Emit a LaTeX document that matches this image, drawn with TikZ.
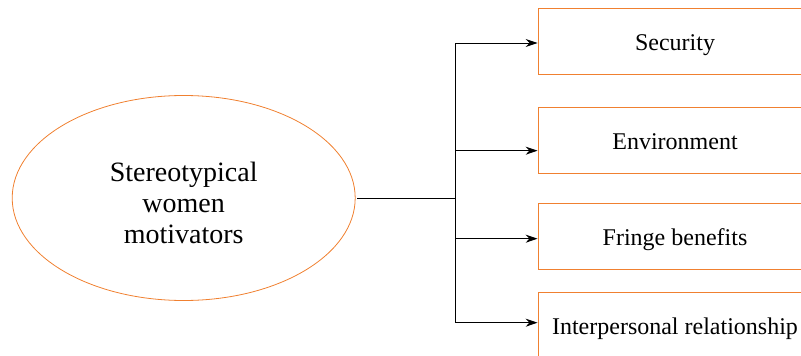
\documentclass[tikz,border=0pt]{standalone}
\usepackage{fontspec}
\setmainfont{Liberation Serif}
\usetikzlibrary{arrows.meta, positioning, shapes.geometric}
\definecolor{lineorange}{RGB}{240,128,48}

\begin{document}
\begin{tikzpicture}[
  x=1pt, y=-1pt,
  motive/.style={draw=lineorange, line width=0.8pt, ellipse, minimum width=343pt, minimum height=205pt, inner sep=0pt, align=center, text height=91pt, text depth=0pt, font=\fontsize{28}{31}\selectfont},
  factor/.style={draw=lineorange, line width=0.8pt, minimum width=274pt, minimum height=66pt, inner sep=0pt, align=center, text height=19pt, text depth=0pt, font=\fontsize{24}{28}\selectfont},
  trunk/.style={line width=1pt, black},
  branch/.style={-{Stealth[length=12pt, width=8pt]}, line width=1pt, black}
]
\clip (0,0) rectangle (801,356);
\node[motive] (motiv) at (183.7,198) {Stereotypical\\women\\motivators};
\node[factor] (sec) at (675,41) {Security};
\node[factor] (env) at (675,140.3) {Environment};
\node[factor] (fringe) at (675,236) {Fringe benefits};
\node[factor] (inter) at (675,325.3) {Interpersonal relationship};
\coordinate (hub) at (455,198);
\draw[trunk] ([xshift=1.5pt]motiv.east) -- (hub);
\draw[branch] (hub) |- ([yshift=-2pt]sec.west);
\draw[branch] (hub) |- ([yshift=-10.4pt]env.west);
\draw[branch] (hub) |- ([yshift=-2.7pt]fringe.west);
\draw[branch] (hub) |- ([yshift=2.6pt]inter.west);
\end{tikzpicture}
\end{document}
